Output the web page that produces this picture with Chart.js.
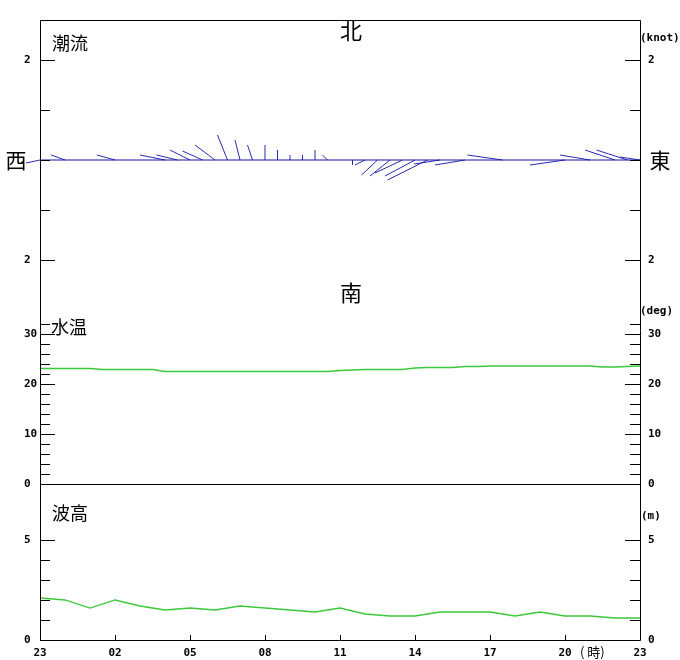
<!DOCTYPE html>
<html>
<head>
<meta charset="utf-8">
<script src="https://cdn.jsdelivr.net/npm/chart.js@4.4.1/dist/chart.umd.min.js"></script>
<style>
  html, body { margin: 0; padding: 0; background: #fff; }
  #wrap { position: relative; width: 680px; height: 660px; }
</style>
</head>
<body>
<div id="wrap"><canvas id="oceanChart"></canvas></div>
<script>
// time axis: hours from 23:00 (0) to next 23:00 (24)
const hourLabels = ['23', '02', '05', '08', '11', '14', '17', '20', '23'];

// 潮流: every 30 min, knot (east / north components)
const currentEast = [
  -0.28, 0, -0.28, 0, 0, 0, -0.36, 0, 0, 0,
  -0.5, -0.42, -0.4, -0.4, -0.4, -0.2, -0.1, -0.1, 0, 0,
  0, 0, 0, -0.1, 0, 0, -0.2, -0.32, -0.4, -0.55,
  -0.6, -0.8, -0.52, 0, -0.6, 0, 0, -0.7, 0, 0,
  0, 0, -0.7, 0, -0.6, 0, -0.6, -0.62, -0.4
];
const currentNorth = [
  -0.06, 0, 0.1, 0, 0, 0, 0.1, 0, 0, 0,
  0.1, 0.1, 0.2, 0.18, 0.3, 0.5, 0.4, 0.3, 0.3, 0.2,
  0.1, 0.1, 0.2, 0.1, 0, -0.1, -0.1, -0.3, -0.32, -0.26,
  -0.32, -0.4, -0.08, 0, -0.1, 0, 0, 0.1, 0, 0,
  0, 0, -0.1, 0, 0.1, 0, 0.2, 0.2, 0.06
];

// 水温: every 30 min, deg
const waterTemp = [
  23.1, 23.1, 23.1, 23.1, 23.1, 22.9, 22.9, 22.9, 22.9, 22.9,
  22.5, 22.5, 22.5, 22.5, 22.5, 22.5, 22.5, 22.5, 22.5, 22.5,
  22.5, 22.5, 22.5, 22.5, 22.7, 22.8, 22.9, 22.9, 22.9, 22.9,
  23.2, 23.3, 23.3, 23.3, 23.5, 23.5, 23.6, 23.6, 23.6, 23.6,
  23.6, 23.6, 23.6, 23.6, 23.6, 23.4, 23.4, 23.5, 23.6
];

// 波高: hourly, m
const waveHeight = [
  2.1, 2.0, 1.6, 2.0, 1.7, 1.5, 1.6, 1.5, 1.7, 1.6,
  1.5, 1.4, 1.6, 1.3, 1.2, 1.2, 1.4, 1.4, 1.4, 1.2,
  1.4, 1.2, 1.2, 1.1, 1.1
];

// axis ranges
const curRange = { min: -3.28, max: 2.8 };
const tempRange = { min: 0, max: 32 };
const waveRange = { min: 0, max: 7.8 };

// a 1 knot stick is drawn as long horizontally as 2 hours on the time axis
const KNOT_HOURS = 2;

const tickFont = { family: '"DejaVu Sans Mono", monospace', size: 11, weight: 'bold' };
const cjk = '"Noto Sans CJK JP", sans-serif';

// stick plot: base on the zero line, tip in the direction of flow
const stickPoints = [];
currentEast.forEach((u, i) => {
  const t = i * 0.5;
  stickPoints.push({ x: t, y: 0 }, { x: t + u * KNOT_HOURS, y: currentNorth[i] }, { x: t, y: null });
});

function panelAxis(side, range, step, weight, labelOf, keep) {
  return {
    position: side,
    stack: side,
    stackWeight: weight,
    min: range.min,
    max: range.max,
    grid: { display: false, drawTicks: false },
    border: { display: false },
    ticks: {
      stepSize: step,
      includeBounds: false,
      autoSkip: false,
      color: '#000',
      font: tickFont,
      padding: side === 'left' ? 0 : 8,
      crossAlign: side === 'left' ? 'far' : 'near',
      callback: labelOf
    },
    afterBuildTicks: s => { s.ticks = s.ticks.filter(t => keep(t.value)); },
    afterFit: s => { s.width = side === 'left' ? 16 : 40; }
  };
}

const curLabel = v => (Math.abs(v) === 2 ? String(Math.abs(v)) : '');
const tempLabel = v => (v % 10 === 0 ? String(v) : '');
const waveLabel = v => (v % 5 === 0 ? String(v) : '');
const curKeep = v => Math.abs(v) <= 2;
const allKeep = () => true;
const waveKeep = v => v <= 5;

// frame, inward tick marks and the separator line
const frameTicks = {
  id: 'frameTicks',
  afterDraw(chart) {
    const { ctx, chartArea: a, scales } = chart;
    ctx.save();
    ctx.strokeStyle = '#000';
    ctx.lineWidth = 1;
    ctx.beginPath();
    ctx.rect(a.left + 0.5, a.top + 0.5, a.right - a.left, a.bottom - a.top);
    const sep = Math.round(scales.yTemp.getPixelForValue(0)) + 0.5;
    ctx.moveTo(a.left, sep);
    ctx.lineTo(a.right, sep);
    ['yCur', 'yTemp', 'yWave'].forEach(id => {
      const s = scales[id];
      s.ticks.forEach(t => {
        const y = Math.round(s.getPixelForValue(t.value)) + 0.5;
        const len = t.label ? 15 : 10;
        ctx.moveTo(a.left, y); ctx.lineTo(a.left + len, y);
        ctx.moveTo(a.right - len, y); ctx.lineTo(a.right, y);
      });
    });
    const x = scales.x;
    x.ticks.forEach(t => {
      if (t.value <= x.min || t.value >= x.max) return;
      const px = Math.round(x.getPixelForValue(t.value)) + 0.5;
      ctx.moveTo(px, a.bottom); ctx.lineTo(px, a.bottom - 5);
    });
    ctx.stroke();
    ctx.restore();
  }
};

// panel titles, compass points and units
const panelText = {
  id: 'panelText',
  afterDraw(chart) {
    const { ctx, chartArea: a, scales } = chart;
    const { yCur, yTemp, yWave, x } = scales;
    const mid = (a.left + a.right) / 2 + 11;
    ctx.save();
    ctx.fillStyle = '#000';
    ctx.textBaseline = 'middle';

    ctx.font = '18px ' + cjk;
    ctx.textAlign = 'left';
    ctx.fillText('潮流', a.left + 12, a.top + 23);
    ctx.fillText('水温', a.left + 11, yTemp.getPixelForValue(30) - 7);
    ctx.fillText('波高', a.left + 12, yWave.getPixelForValue(5) - 27);

    ctx.font = '22px ' + cjk;
    ctx.textAlign = 'center';
    ctx.fillText('北', mid, a.top + 11);
    ctx.fillText('南', mid, yCur.getPixelForValue(-2) + 33);
    ctx.font = '21px ' + cjk;
    ctx.fillText('西', a.left - 24, yCur.getPixelForValue(0));
    ctx.fillText('東', a.right + 20, yCur.getPixelForValue(0));

    ctx.font = 'bold 11px "DejaVu Sans Mono", monospace';
    ctx.textAlign = 'left';
    ctx.fillText('(knot)', a.right, yCur.getPixelForValue(2) - 22);
    ctx.fillText('(deg)', a.right, yTemp.getPixelForValue(30) - 23);
    ctx.fillText('(m)', a.right + 1, yWave.getPixelForValue(5) - 24);

    ctx.font = '13px ' + cjk;
    ctx.fillText('( 時)', x.getPixelForValue(21) + 15, a.bottom + 12);
    ctx.restore();
  }
};

new Chart(document.getElementById('oceanChart'), {
  type: 'line',
  data: {
    datasets: [
      {
        label: 'zero',
        data: [{ x: 0, y: 0 }, { x: 24, y: 0 }],
        yAxisID: 'yCur',
        borderColor: '#1414a0',
        borderWidth: 1
      },
      {
        label: '潮流',
        data: stickPoints,
        yAxisID: 'yCur',
        borderColor: '#2a2ab4',
        borderWidth: 1,
        spanGaps: false,
        clip: false
      },
      {
        label: '水温',
        data: waterTemp.map((v, i) => ({ x: i * 0.5, y: v })),
        yAxisID: 'yTemp',
        borderColor: '#3cc83c',
        borderWidth: 1.3
      },
      {
        label: '波高',
        data: waveHeight.map((v, h) => ({ x: h, y: v })),
        yAxisID: 'yWave',
        borderColor: '#3cc83c',
        borderWidth: 1.3
      }
    ]
  },
  options: {
    responsive: true,
    maintainAspectRatio: false,
    animation: false,
    layout: { padding: { top: 20, left: 24, right: 0, bottom: 0 } },
    elements: { point: { radius: 0 }, line: { tension: 0 } },
    plugins: { legend: { display: false }, tooltip: { enabled: false } },
    scales: {
      x: {
        type: 'linear',
        min: 0,
        max: 24,
        grid: { display: false, drawTicks: false },
        border: { display: false },
        ticks: {
          stepSize: 3,
          autoSkip: false,
          maxRotation: 0,
          padding: 7,
          color: '#000',
          font: tickFont,
          callback: v => hourLabels[v / 3]
        },
        afterFit: s => { s.height = 20; }
      },
      // left stack is placed bottom-up, right stack top-down
      yWave: panelAxis('left', waveRange, 1, 156, waveLabel, waveKeep),
      yTemp: panelAxis('left', tempRange, 2, 160, tempLabel, allKeep),
      yCur: panelAxis('left', curRange, 1, 304, curLabel, curKeep),
      yCurR: panelAxis('right', curRange, 1, 304, curLabel, curKeep),
      yTempR: panelAxis('right', tempRange, 2, 160, tempLabel, allKeep),
      yWaveR: panelAxis('right', waveRange, 1, 156, waveLabel, waveKeep)
    }
  },
  plugins: [frameTicks, panelText]
});
</script>
</body>
</html>
